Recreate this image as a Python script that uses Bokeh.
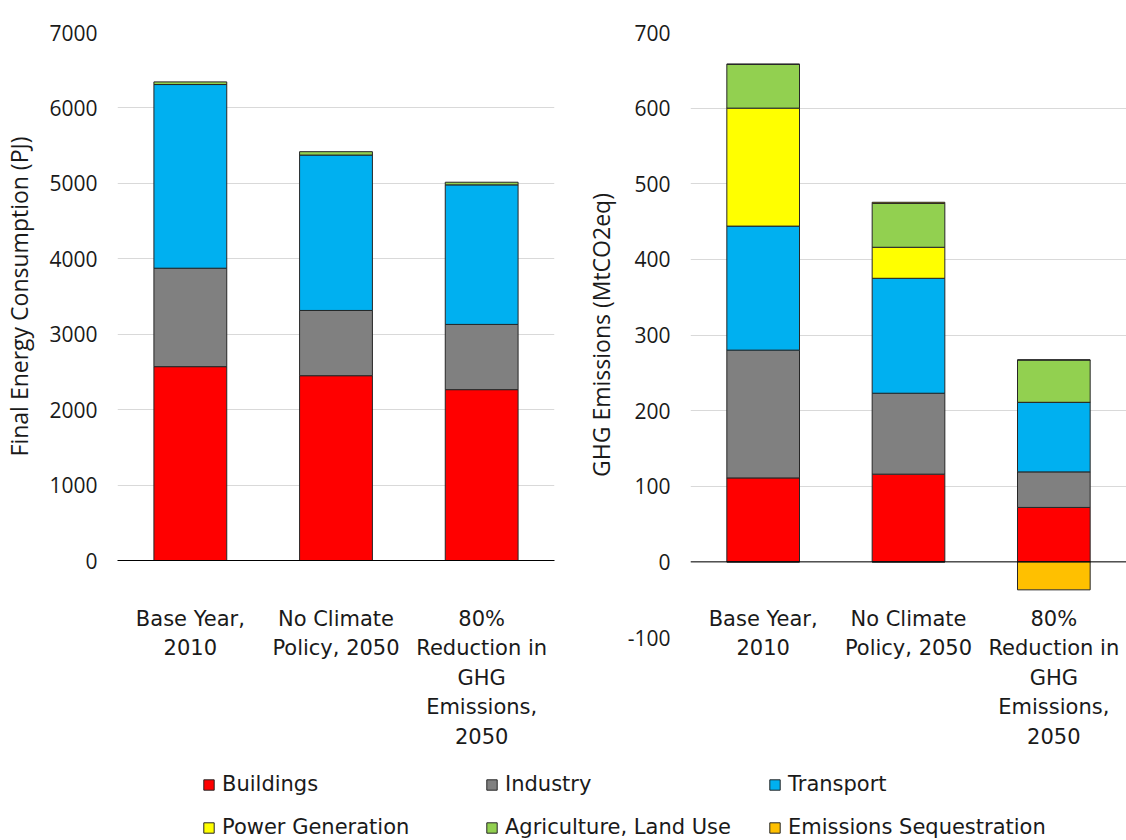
from bokeh.plotting import figure
from bokeh.models import (FactorRange, Range1d, FixedTicker, Legend, LegendItem,
                          ColumnDataSource, Span)
from bokeh.layouts import column, row
from bokeh.embed import file_html
from bokeh.resources import INLINE
import numpy as np

# ---------------- data ----------------
scenarios = ["Base Year,\n2010", "No Climate\nPolicy, 2050",
             "80%\nReduction in\nGHG\nEmissions,\n2050"]
sectors = ["Buildings", "Industry", "Transport", "Power Generation",
           "Agriculture, Land Use", "Emissions Sequestration"]
colors = ["#FF0000", "#808080", "#00B0F0", "#FFFF00", "#92D050", "#FFC000"]

# Final energy consumption (PJ)
energy_buildings = [2570, 2450, 2265]
energy_industry = [1305, 865, 865]
energy_transport = [2435, 2060, 1850]
energy_agriculture = [35, 45, 35]
energy_ticks = [0, 1000, 2000, 3000, 4000, 5000, 6000, 7000]

# GHG emissions (MtCO2eq)
ghg_buildings = [111, 116, 72]
ghg_industry = [169, 107, 47]
ghg_transport = [164, 152, 92]
ghg_power = [156, 41, 0]
ghg_agriculture = [58, 58, 56]
ghg_sequestration = [0, 1.5, -37]
ghg_ticks = [-100, 0, 100, 200, 300, 400, 500, 600, 700]

OUTLINE = "#262626"
GRID = "#d9d9d9"
TEXT = "#1a1a1a"
TICK_FONT = "Open Sans"
CAT_FONT = "DejaVu Sans"


def style(p, ticks, title, label_standoff, cat_standoff, axis_line):
    p.outline_line_color = None
    p.xgrid.visible = False
    p.ygrid.grid_line_color = GRID
    p.ygrid.grid_line_width = 1
    p.yaxis.ticker = FixedTicker(ticks=ticks)
    p.yaxis.major_label_overrides = {t: str(t) for t in ticks}
    p.yaxis.axis_line_color = None
    p.yaxis.major_tick_line_color = None
    p.yaxis.minor_tick_line_color = None
    p.yaxis.major_tick_out = 0
    p.yaxis.major_tick_in = 0
    p.yaxis.major_label_text_font = TICK_FONT
    p.yaxis.major_label_text_font_size = "21px"
    p.yaxis.major_label_text_color = TEXT
    p.yaxis.major_label_standoff = 20
    p.yaxis.axis_label = title
    p.yaxis.axis_label_text_font = TICK_FONT
    p.yaxis.axis_label_text_font_style = "normal"
    p.yaxis.axis_label_text_font_size = "23px"
    p.yaxis.axis_label_text_color = TEXT
    p.yaxis.axis_label_standoff = label_standoff
    p.xaxis.axis_line_color = "black" if axis_line else None
    p.xaxis.axis_line_width = 1
    p.xaxis.major_tick_line_color = None
    p.xaxis.minor_tick_line_color = None
    p.xaxis.major_tick_out = 0
    p.xaxis.major_tick_in = 0
    p.xaxis.major_label_text_font = CAT_FONT
    p.xaxis.major_label_text_font_size = "21px"
    p.xaxis.major_label_text_color = TEXT
    p.xaxis.major_label_text_line_height = 1.23
    p.xaxis.major_label_standoff = cat_standoff


# ---------------- left chart ----------------
src1 = ColumnDataSource(dict(x=scenarios, b=energy_buildings, i=energy_industry,
                             t=energy_transport, a=energy_agriculture))
p1 = figure(x_range=FactorRange(factors=scenarios, range_padding=0, factor_padding=0),
            y_range=Range1d(0, 7000), frame_width=437, frame_height=528,
            output_backend="svg", toolbar_location=None,
            min_border_left=115, min_border_right=8, min_border_top=32, min_border_bottom=190)
p1.vbar_stack(["b", "i", "t", "a"], x="x", width=0.5, source=src1,
              fill_color=[colors[0], colors[1], colors[2], colors[4]],
              line_color=OUTLINE, line_width=1)
style(p1, energy_ticks, "Final Energy Consumption (PJ)", 11, 46, True)

# ---------------- right chart ----------------
seq = np.array(ghg_sequestration, dtype=float)
src2 = ColumnDataSource(dict(x=scenarios, b=ghg_buildings, i=ghg_industry, t=ghg_transport,
                             pw=ghg_power, a=ghg_agriculture, sp=np.clip(seq, 0, None),
                             sn=np.clip(seq, None, 0)))
p2 = figure(x_range=FactorRange(factors=scenarios, range_padding=0, factor_padding=0),
            y_range=Range1d(-100, 700), frame_width=436, frame_height=605,
            output_backend="svg", toolbar_location=None,
            min_border_left=128, min_border_right=0, min_border_top=32, min_border_bottom=113)
p2.vbar_stack(["b", "i", "t", "pw", "a", "sp"], x="x", width=0.5, source=src2,
              fill_color=colors, line_color=OUTLINE, line_width=1)
p2.vbar(x="x", top="sn", bottom=0, width=0.5, source=src2,
        fill_color=colors[5], line_color=OUTLINE, line_width=1)
style(p2, ghg_ticks, "GHG Emissions (MtCO2eq)", 8, -31, False)
p2.add_layout(Span(location=0, dimension="width", line_color="black", line_width=1))

# ---------------- legend ----------------
p3 = figure(x_range=FactorRange(factors=scenarios), y_range=Range1d(1000, 1001),
            width=1124, height=88, output_backend="svg", toolbar_location=None,
            min_border=0, x_axis_type=None, y_axis_type=None)
p3.outline_line_color = None
p3.grid.visible = False
rs = p3.vbar_stack(["b", "i", "t", "pw", "a", "sp"], x="x", width=0.5, source=src2,
                   fill_color=colors, line_color=OUTLINE, line_width=1)
items = [LegendItem(label=name, renderers=[r]) for name, r in zip(sectors, rs)]
leg = Legend(items=items, orientation="horizontal", ncols=3, location=(202, 0),
             label_text_font=CAT_FONT, label_text_font_size="21px", label_text_color=TEXT,
             label_height=20, label_width=244, label_standoff=7,
             glyph_width=13, glyph_height=13, spacing=19, padding=0, margin=0,
             border_line_color=None, background_fill_alpha=0)
p3.add_layout(leg)

layout = column(row(p1, p2), p3)
open("out.html", "w").write(file_html(layout, INLINE))
